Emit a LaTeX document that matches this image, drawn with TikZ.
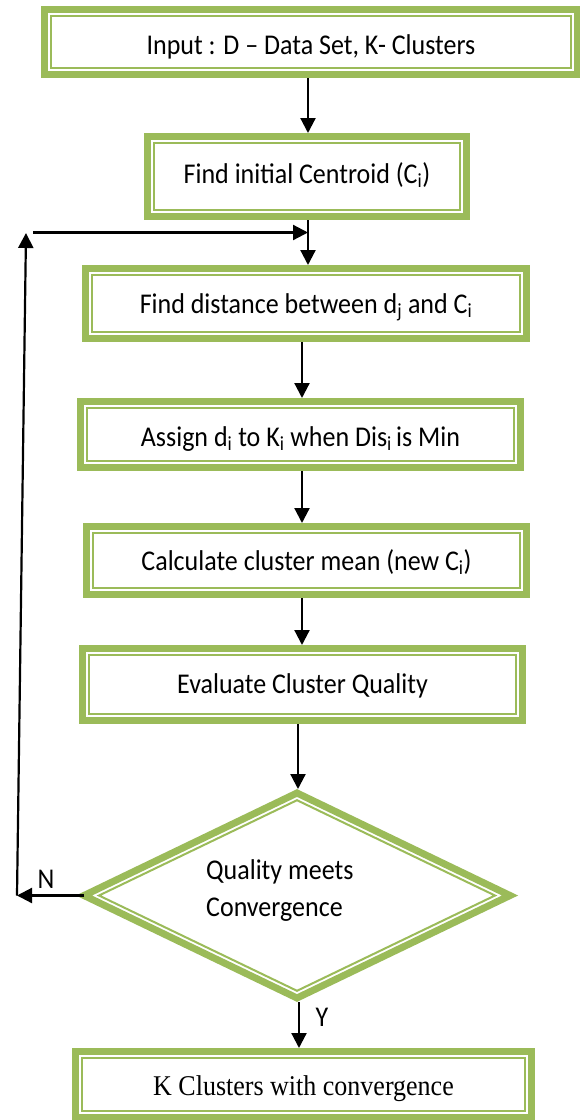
\documentclass[tikz,border=0pt]{standalone}
\usepackage{fontspec}
\setmainfont{Carlito}
\newfontfamily\tnrfont{Liberation Serif}
\usetikzlibrary{shapes.geometric,arrows.meta}
\definecolor{gr}{HTML}{9BBB59}
\newcommand\sbs[1]{\textsubscript{#1}}
\newcommand\vs[2][0pt]{\raisebox{#1}{\scalebox{1}[1.1]{#2}}}
\begin{document}
\begin{tikzpicture}[x=1pt,y=-1pt,
  gbox/.style={draw=gr, line width=7pt, fill=white, inner sep=0pt, outer sep=3.5pt,
               text height=19pt, text depth=7pt, font=\fontsize{26}{31}\selectfont},
  innerline/.style={draw=gr, line width=2pt},
  tip/.style={-{Triangle[length=15pt,width=15pt]}},
  arr/.style={draw=black, line width=2.2pt, tip},
  lbl/.style={font=\fontsize{26}{31}\selectfont, inner sep=0pt}]
\useasboundingbox (0,0) rectangle (580,1120);
% boxes
\node[gbox, minimum width=533pt, minimum height=65pt] (b1) at (311,42) {\vs[-6pt]{Input : D – Data Set, K- Clusters}};
\node[gbox, minimum width=319pt, minimum height=80pt] (b2) at (307,176.5) {\vs[-1pt]{Find initial Centroid (C\sbs{i})}};
\node[gbox, minimum width=441pt, minimum height=70pt] (b3) at (306,303.5) {\vs[-4pt]{Find distance between d\sbs{j} and C\sbs{i}}};
\node[gbox, minimum width=440pt, minimum height=66pt] (b4) at (300.5,434.5) {\vs[-6pt]{Assign d\sbs{i} to K\sbs{i} when Dis\sbs{i}\,is Min}};
\node[gbox, minimum width=440pt, minimum height=68pt] (b5) at (306.5,560.5) {\vs[-4pt]{Calculate cluster mean (new C\sbs{i})}};
\node[gbox, minimum width=440pt, minimum height=72pt] (b6) at (302.5,684.5) {\vs[-3pt]{Evaluate Cluster Quality}};
\node[gbox, minimum width=456pt, minimum height=66pt, font=\tnrfont\fontsize{26}{31}\selectfont] (b7) at (303.5,1084.5) {\vs[-5pt]{K Clusters with convergence}};
\foreach \n in {b1,b2,b3,b4,b5,b6,b7}
  \draw[innerline] ([xshift=10pt,yshift=-10pt]\n.north west) rectangle ([xshift=-10pt,yshift=10pt]\n.south east);
% decision
\node[diamond, draw=gr, line width=7pt, fill=white, inner sep=0pt, outer sep=0pt,
      minimum width=426pt, minimum height=205pt] (dm) at (297,895.5) {};
\draw[innerline] ([xshift=-198pt]dm.center) -- ([yshift=95.3pt]dm.center) -- ([xshift=198pt]dm.center) -- ([yshift=-95.3pt]dm.center) -- cycle;
\node[lbl, align=left, anchor=west, font=\fontsize{26}{37}\selectfont] (dt) at (206,890.5) {\vs{Quality meets}\\\vs{Convergence}};
% helper coordinates
\coordinate (mj) at (308,232.5);
\coordinate (ax) at (302,500);
\coordinate (ay) at (298,750);
\coordinate (az) at (299,1020);
\coordinate (nl) at (17,895.5);
\coordinate (lt) at (26,233);
\coordinate (lh) at (33,232.5);
% connectors
\draw[arr] (b1.south -| mj) -- (b2.north -| mj);
\draw[arr] (b2.south -| mj) -- (b3.north -| mj);
\draw[arr] (lh) -- (mj);
\draw[arr] (b3.south -| ax) -- (b4.north -| ax);
\draw[arr] (b4.south -| ax) -- (b5.north -| ax);
\draw[arr] (b5.south -| ax) -- (b6.north -| ax);
\draw[arr] (b6.south -| ay) -- ([yshift=4pt]dm.north -| ay);
\draw[arr] ([yshift=-4pt]dm.south -| az) -- (b7.north -| az);
\draw[arr] (dm.west) -- (nl);
\draw[arr] (nl) -- (lt);
% labels
\node[lbl] (nlab) at (46,879) {\vs{N}};
\node[lbl] (ylab) at (322,1017) {\vs{Y}};
\end{tikzpicture}
\end{document}
